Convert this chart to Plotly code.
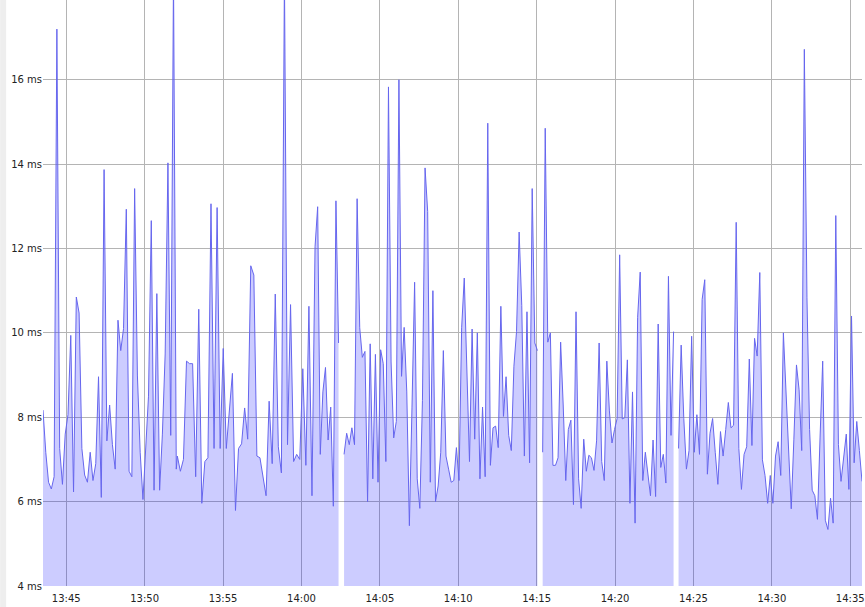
import plotly.graph_objects as go
import pandas as pd

# Latency samples (ms); each chunk spans start..end time
chunk1_start, chunk1_end = "2024-01-01 13:43:31", "2024-01-01 13:52:01"
chunk1_vals = [8.17, 7.17, 6.46, 6.30, 6.59, 17.2, 7.26, 6.41, 7.6, 8.06, 9.94, 6.23, 10.85, 10.47,
               7.26, 6.63, 6.46, 7.17, 6.5, 6.9, 8.96, 6.1, 13.87, 7.44, 8.29, 7.35, 6.77, 10.3,
               9.58, 10.1, 12.93, 6.72, 6.59, 13.42, 9.0, 7.17, 6.05, 7.44, 8.5, 12.66, 6.27,
               10.93, 6.27, 7.6, 9.5, 14.03, 7.57, 18.5, 6.77]

chunk2_start, chunk2_end = "2024-01-01 13:52:05", "2024-01-01 14:00:52"
chunk2_vals = [7.08, 6.72, 7.0, 9.33, 9.27, 9.27, 6.59, 10.56, 5.96, 6.95, 7.04, 13.06, 7.26,
               12.97, 7.26, 9.63, 7.26, 8.24, 9.04, 5.79, 7.26, 7.37, 8.22, 7.48, 11.59, 11.37,
               7.08, 7.04, 6.63, 6.14, 8.38, 6.9, 10.92, 7.3, 6.68, 18.5, 7.35, 10.67, 6.95,
               7.12, 7.0, 9.15, 6.86, 10.63, 6.14, 12.04]

chunk3_start, chunk3_end = "2024-01-01 14:01:02", "2024-01-01 14:02:22"
chunk3_vals = [12.99, 7.12, 8.6, 9.18, 7.46, 8.24, 5.89, 13.13, 9.76]

chunk4_start, chunk4_end = "2024-01-01 14:02:43", "2024-01-01 14:15:03"
chunk4_vals = [7.12, 7.62, 7.35, 7.75, 7.35, 13.18, 10.12, 9.42, 9.56, 6.0, 9.74, 6.54, 9.49,
               6.46, 9.6, 9.27, 6.95, 15.83, 9.31, 7.51, 7.9, 16.0, 8.97, 10.13, 8.6, 5.43,
               8.24, 11.2, 6.54, 5.84, 8.4, 13.91, 12.88, 6.46, 11.0, 6.0, 6.37, 7.17, 9.58,
               7.08, 6.77, 6.46, 6.5, 7.28, 6.5, 10.12, 11.3, 8.87, 6.95, 10.09, 7.48, 10.0,
               6.54, 8.24, 6.59, 14.97, 6.86, 7.75, 7.79, 7.28, 10.63, 8.02, 8.96, 7.57, 7.21,
               9.21, 10.03, 12.39, 10.65, 7.08, 10.5, 6.92, 13.42, 9.76, 9.58]

chunk5_start, chunk5_end = "2024-01-01 14:15:23", "2024-01-01 14:23:44"
chunk5_vals = [7.17, 14.85, 9.78, 10.0, 6.86, 6.86, 7.04, 9.78, 8.29, 6.5, 7.71, 7.93, 5.93,
               10.5, 6.54, 5.84, 7.48, 6.72, 7.1, 7.04, 6.74, 7.44, 9.76, 6.95, 6.5, 9.33,
               8.15, 7.39, 7.71, 7.97, 11.85, 7.96, 7.99, 9.36, 5.96, 8.6, 5.49, 10.37, 11.44,
               6.5, 7.17, 6.68, 6.14, 7.46, 6.12, 10.21, 6.81, 7.12, 6.44, 11.34, 7.57, 10.03]

chunk6_start, chunk6_end = "2024-01-01 14:24:03", "2024-01-01 14:35:45"
chunk6_vals = [7.26, 9.71, 7.97, 6.77, 7.21, 9.92, 7.17, 8.06, 7.12, 10.79, 11.26, 6.65, 7.62,
               7.97, 7.17, 6.41, 7.66, 7.08, 7.71, 8.35, 7.75, 7.81, 12.62, 7.26, 6.29, 7.12,
               7.3, 9.38, 7.33, 9.87, 9.45, 11.43, 6.99, 6.62, 5.96, 6.62, 5.96, 7.08, 7.42,
               6.62, 10.0, 8.6, 7.26, 5.83, 7.48, 9.24, 8.65, 7.21, 16.72, 10.83, 7.71, 6.27,
               6.14, 5.58, 7.53, 9.33, 5.56, 5.34, 6.08, 5.49, 12.78, 7.35, 6.48, 7.04, 7.6,
               6.29, 10.4, 6.92, 7.9, 7.21, 6.48]

# (start, end, values, gap_after)
chunks = [
    (chunk1_start, chunk1_end, chunk1_vals, False),
    (chunk2_start, chunk2_end, chunk2_vals, False),
    (chunk3_start, chunk3_end, chunk3_vals, True),
    (chunk4_start, chunk4_end, chunk4_vals, True),
    (chunk5_start, chunk5_end, chunk5_vals, True),
    (chunk6_start, chunk6_end, chunk6_vals, False),
]

y_ticks = [4, 6, 8, 10, 12, 14, 16]
y_tick_text = [f"{v} ms" for v in y_ticks]

# group chunks into continuous segments (a gap ends a segment)
segments = []
cur_x, cur_y = [], []
for start, end, vals, gap in chunks:
    times = pd.date_range(start, end, periods=len(vals))
    cur_x.extend(times)
    cur_y.extend(vals)
    if gap:
        segments.append((cur_x, cur_y))
        cur_x, cur_y = [], []
if cur_x:
    segments.append((cur_x, cur_y))

fig = go.Figure()
for sx, sy in segments:
    fig.add_trace(go.Scatter(
        x=sx, y=sy, mode="lines", fill="tozeroy",
        line=dict(color="rgb(102,102,238)", width=1),
        fillcolor="rgba(0,0,255,0.2)", hoverinfo="skip", showlegend=False,
    ))

fig.update_layout(
    width=865, height=607,
    margin=dict(l=43, r=0, t=0, b=21),
    paper_bgcolor="white", plot_bgcolor="white",
    font=dict(family="DejaVu Sans", size=10, color="#222"),
    xaxis=dict(
        range=["2024-01-01 13:43:31", "2024-01-01 14:35:45"],
        tickformat="%H:%M", dtick=300000, tick0="2024-01-01 13:45:00",
        showgrid=True, gridcolor="#b4b4b4", gridwidth=1,
        zeroline=False, showline=False,
        ticks="outside", ticklen=3, tickcolor="rgba(0,0,0,0)",
        ticklabeloverflow="allow",
    ),
    yaxis=dict(
        range=[4, 17.89], tickvals=y_ticks, ticktext=y_tick_text,
        showgrid=True, gridcolor="#b4b4b4", gridwidth=1,
        zeroline=False, showline=False, ticks="",
    ),
    shapes=[dict(type="rect", xref="paper", yref="paper",
                 x0=-43/822, x1=-37/822, y0=-21/586, y1=1,
                 fillcolor="#eeeeee", line=dict(width=0), layer="below")],
)

fig.write_html("out.html", config={"displayModeBar": False},
               post_script="document.body.style.margin='0';document.body.style.padding='0';")
